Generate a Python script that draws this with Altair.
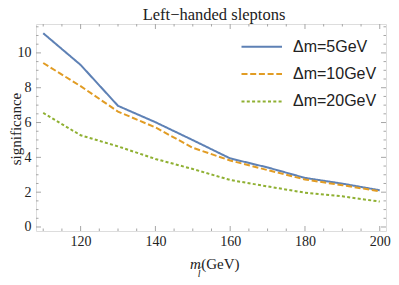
import altair as alt
import pandas as pd

mass = [110, 120, 130, 140, 150, 160, 170, 180, 190, 200]
sig_5 = [11.13, 9.31, 6.96, 6.02, 4.99, 3.94, 3.42, 2.82, 2.49, 2.11]
sig_10 = [9.42, 8.09, 6.63, 5.72, 4.55, 3.82, 3.27, 2.73, 2.40, 2.05]
sig_20 = [6.55, 5.27, 4.63, 3.91, 3.33, 2.70, 2.33, 1.97, 1.76, 1.46]
series = ["Δm=5GeV", "Δm=10GeV", "Δm=20GeV"]
colors = ["#5E81B5", "#E19C24", "#8FB032"]
dashes = [[1, 0], [6, 2.7], [3, 2.3]]
x_major = [120, 140, 160, 180, 200]
x_minor = [110, 115, 125, 130, 135, 145, 150, 155, 165, 170, 175, 185, 190, 195]
y_major = [0, 2, 4, 6, 8, 10]
y_minor = [0.5, 1, 1.5, 2.5, 3, 3.5, 4.5, 5, 5.5, 6.5, 7, 7.5, 8.5, 9, 9.5,
           10.5, 11, 11.5]

W, H = 350, 207
XDOM = [108.07, 201.67]
YDOM = [-0.23, 11.66]
FRAME = "#a6a6a6"
SERIF = "Liberation Serif"
SANS = "Liberation Sans"

rows = []
for name, vals in zip(series, [sig_5, sig_10, sig_20]):
    for m, v in zip(mass, vals):
        rows.append({"m": m, "s": v, "series": name})
df = pd.DataFrame(rows)

xs = alt.Scale(domain=XDOM, nice=False, zero=False)
ys = alt.Scale(domain=YDOM, nice=False, zero=False)
cs = alt.Scale(domain=series, range=colors)
ds = alt.Scale(domain=series, range=dashes)

lines = alt.Chart(df).mark_line(strokeWidth=2, clip=True).encode(
    x=alt.X("m:Q", scale=xs,
            axis=alt.Axis(values=x_major, ticks=False, domain=False, grid=False,
                          labelFont=SERIF, labelFontSize=14, labelColor="#222",
                          labelPadding=3, title=None)),
    y=alt.Y("s:Q", scale=ys,
            axis=alt.Axis(values=y_major, ticks=False, domain=False, grid=False,
                          labelFont=SERIF, labelFontSize=14, labelColor="#222",
                          labelPadding=5, title=None)),
    color=alt.Color("series:N", scale=cs, legend=None),
    strokeDash=alt.StrokeDash("series:N", scale=ds, legend=None),
    detail="series:N",
)

xmaj = pd.DataFrame({"v": x_major})
xmin = pd.DataFrame({"v": x_minor})
ymaj = pd.DataFrame({"v": y_major})
ymin = pd.DataFrame({"v": y_minor})

def xticks(d, ln):
    b = alt.Chart(d).mark_rule(color=FRAME, strokeWidth=1).encode(
        x=alt.X("v:Q", scale=xs, axis=None),
        y=alt.value(H), y2=alt.value(H - ln))
    t = alt.Chart(d).mark_rule(color=FRAME, strokeWidth=1).encode(
        x=alt.X("v:Q", scale=xs, axis=None),
        y=alt.value(0), y2=alt.value(ln))
    return [b, t]

def yticks(d, ln):
    l = alt.Chart(d).mark_rule(color=FRAME, strokeWidth=1).encode(
        y=alt.Y("v:Q", scale=ys, axis=None),
        x=alt.value(0), x2=alt.value(ln))
    r = alt.Chart(d).mark_rule(color=FRAME, strokeWidth=1).encode(
        y=alt.Y("v:Q", scale=ys, axis=None),
        x=alt.value(W), x2=alt.value(W - ln))
    return [l, r]

ticks = xticks(xmaj, 5) + xticks(xmin, 2.5) + yticks(ymaj, 5) + yticks(ymin, 2.5)

leg = pd.DataFrame({"series": series, "row": [0, 1, 2]})
lys = alt.Scale(domain=[0, 2], range=[22.8, 77.4], nice=False, zero=False)
leg_lines = alt.Chart(leg).mark_rule(strokeWidth=2).encode(
    x=alt.value(205.5), x2=alt.value(246),
    y=alt.Y("row:Q", scale=lys, axis=None),
    color=alt.Color("series:N", scale=cs, legend=None),
    strokeDash=alt.StrokeDash("series:N", scale=ds, legend=None),
)
leg_text = alt.Chart(leg).mark_text(align="left", baseline="middle", font=SANS,
                                     fontSize=16, color="#222").encode(
    x=alt.value(257), y=alt.Y("row:Q", scale=lys, axis=None),
    text="series:N")

def label(txt, x, y, size, baseline="middle", **kw):
    return alt.Chart(pd.DataFrame({"t": [txt]})).mark_text(
        font=SERIF, fontSize=size, color="#222", baseline=baseline, **kw
    ).encode(x=alt.value(x), y=alt.value(y), text="t:N")

title = label("Left−handed sleptons", W / 2 + 3, -4.5, 16.5, baseline="alphabetic",
              align="center")
ylab = label("significance", -20.5, 105, 15, align="center", angle=270)
xm = label("m", 159.5, 240, 15, align="center", fontStyle="italic")
xl = label("l", 163.2, 249.5, 10, align="center", fontStyle="italic")
xt = label("~", 164, 243.8, 8, align="center")
xg = label("(GeV)", 165.2, 240, 15, align="left")

chart = alt.layer(lines, *ticks, leg_lines, leg_text, title, ylab, xm, xl, xt, xg).resolve_scale(
    x="independent", y="independent"
).properties(
    width=W, height=H,
    autosize=alt.AutoSizeParams(type="none"),
    padding={"left": 28, "top": 16, "right": 5, "bottom": 46},
).configure_view(stroke=FRAME, strokeWidth=1).configure(background="white")

chart.save("out.html", embed_options={"renderer": "svg", "actions": False})
